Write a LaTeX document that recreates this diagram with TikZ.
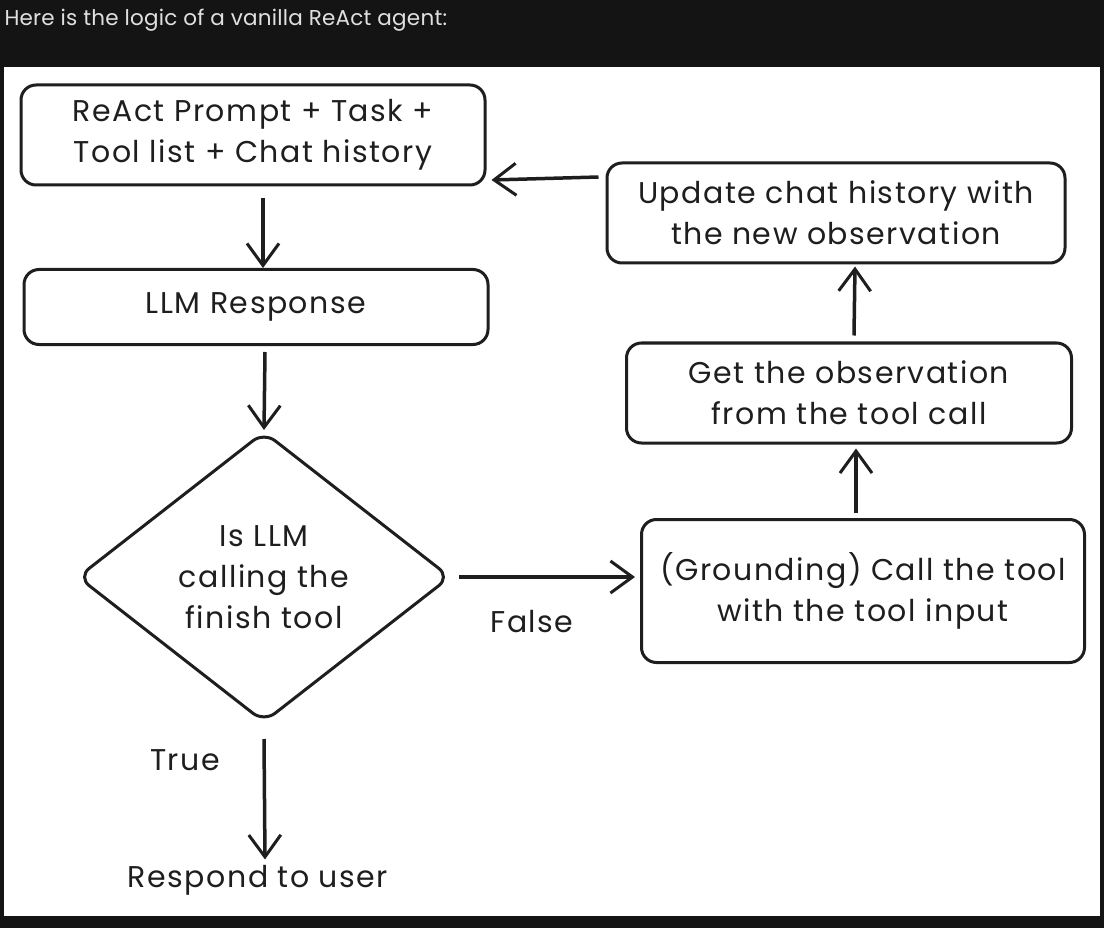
\documentclass[tikz,border=0pt]{standalone}
\usepackage{fontspec}
\usepackage{tikz}
\usetikzlibrary{arrows.meta,shapes.geometric}
\newfontfamily\sketchfont[LetterSpace=5]{Poppins}
\newfontfamily\headfont[LetterSpace=1]{Poppins}
\definecolor{pagedark}{HTML}{141414}
\definecolor{headtext}{HTML}{E0E0E0}
\definecolor{ink}{HTML}{1E1E1E}

\begin{document}
\begin{tikzpicture}[x=1pt,y=-1pt,
    box/.style={draw=ink, line width=3pt, rounded corners=15pt, align=center,
      text=ink, font=\sketchfont\fontsize{30}{41}\selectfont},
    decision/.style={draw=ink, line width=3pt, diamond, rounded corners=14pt,
      align=center, inner sep=0pt, text=ink, font=\sketchfont\fontsize{30}{41}\selectfont},
    plain/.style={text=ink, font=\sketchfont\fontsize{30}{41}\selectfont},
    flow/.style={draw=ink, line width=3.5pt,
      -{Straight Barb[length=22pt,width=32pt,line width=3pt]}}]
    \useasboundingbox (0,0) rectangle (1104,928);
    \fill[pagedark] (0,0) rectangle (1104,928);
    \fill[white] (4,67) rectangle (1100,916);

    \node[anchor=west, text=headtext, font=\headfont\fontsize{21.5}{26}\selectfont] (title) at (1,20) {Here is the logic of a vanilla ReAct agent:};

    \node[box, minimum width=464pt, minimum height=100pt] (prompt) at (253,135) {ReAct Prompt + Task +\\Tool list + Chat history};
    \node[box, minimum width=464pt, minimum height=75pt] (llm) at (256,307) {LLM Response};
    \node[decision, minimum width=373pt, minimum height=291pt] (check) at (264,577) {Is LLM\\calling the\\finish tool};
    \node[box, minimum width=443pt, minimum height=143pt] (ground) at (863,591) {(Grounding) Call the tool\\with the tool input};
    \node[box, minimum width=445pt, minimum height=100pt] (observe) at (849,393) {Get the observation\\from the tool call};
    \node[box, minimum width=458pt, minimum height=100pt] (update) at (836,213) {Update chat history with\\the new observation};
    \node[plain] (respond) at (258,880) {Respond to user};
    \node[plain] (truelabel) at (185,760) {True};
    \node[plain] (falselabel) at (532,622) {False};

    \draw[flow] ([shift={(10,12)}]prompt.south) -- ([xshift=7pt]llm.north);
    \draw[flow] ([shift={(9,6)}]llm.south) -- (check.north);
    \draw[flow, shorten <=7pt, shorten >=5pt] (check.east) -- (ground.west |- check.east);
    \draw[flow] ([xshift=-7pt,yshift=5pt]ground.north) -- ([xshift=7pt,yshift=-4pt]observe.south);
    \draw[flow] ([xshift=5pt,yshift=6pt]observe.north) -- ([xshift=19pt,yshift=-2pt]update.south);
    \draw[flow] ([xshift=-7pt,yshift=36pt]update.west) -- ([xshift=5pt,yshift=-45pt]prompt.east);
    \draw[flow] ([yshift=-15pt]check.south) -- ([xshift=7pt,yshift=2pt]respond.north);
\end{tikzpicture}
\end{document}
